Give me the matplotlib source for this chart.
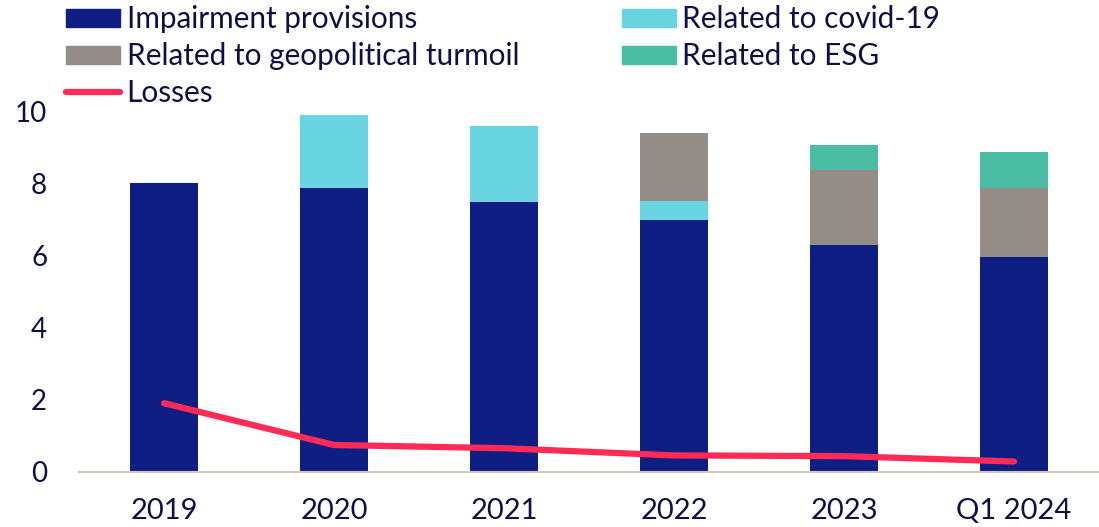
import matplotlib
matplotlib.use("Agg")
import matplotlib.pyplot as plt
import numpy as np
from matplotlib.patches import Patch
from matplotlib.lines import Line2D

# Values in percent
categories = ["2019", "2020", "2021", "2022", "2023", "Q1 2024"]
impairment = [8.02, 7.89, 7.50, 7.00, 6.31, 5.96]
covid = [0.0, 2.03, 2.11, 0.53, 0.0, 0.0]
geopolitical = [0.0, 0.0, 0.0, 1.88, 2.09, 1.94]
esg = [0.0, 0.0, 0.0, 0.0, 0.67, 1.0]
losses = [1.91, 0.75, 0.66, 0.46, 0.44, 0.29]
yticks = [0, 2, 4, 6, 8, 10]

NAVY = "#0f1e82"
CYAN = "#68d4e0"
GREY = "#948c86"
GREEN = "#4bbda3"
RED = "#ff2a55"
TEXT = "#0d1046"

plt.rcParams["font.family"] = ["Lato", "DejaVu Sans"]

fig = plt.figure(figsize=(10.99, 5.27), dpi=100)
ax = fig.add_axes([0.072, 0.1044, 0.928, 0.6831])

x = np.arange(len(categories))
w = 0.4
imp = np.array(impairment)
cov = np.array(covid)
geo = np.array(geopolitical)
eg = np.array(esg)

ax.bar(x, imp, w, color=NAVY, zorder=2)
ax.bar(x, cov, w, bottom=imp, color=CYAN, zorder=2)
ax.bar(x, geo, w, bottom=imp + cov, color=GREY, zorder=2)
ax.bar(x, eg, w, bottom=imp + cov + geo, color=GREEN, zorder=2)
ax.plot(x, losses, color=RED, lw=4.5, solid_capstyle="round", zorder=3)

ax.set_xlim(-0.5, len(categories) - 0.5)
ax.set_ylim(0, 10)
ax.set_xticks(x)
ax.set_xticklabels(categories)
ax.set_yticks(yticks)
ax.tick_params(axis="both", length=0, colors=TEXT)
ax.tick_params(axis="x", pad=19, labelsize=21)
ax.tick_params(axis="y", pad=23, labelsize=20)
for s in ["top", "right", "left"]:
    ax.spines[s].set_visible(False)
ax.spines["bottom"].set_color("#cfc8be")
ax.spines["bottom"].set_linewidth(1.5)

handles = [
    Patch(color=NAVY, label="Impairment provisions"),
    Patch(color=GREY, label="Related to geopolitical turmoil"),
    Line2D([], [], color=RED, lw=4.5, solid_capstyle="round", label="Losses"),
    Patch(color=CYAN, label="Related to covid-19"),
    Patch(color=GREEN, label="Related to ESG"),
]
fig.legend(handles=handles, ncol=2, loc="upper left",
           bbox_to_anchor=(0.060, 0.99), frameon=False, borderpad=0,
           borderaxespad=0,
           fontsize=21.4, labelcolor=TEXT, handlelength=1.82,
           handleheight=0.55, handletextpad=0.22, labelspacing=0.3,
           columnspacing=3.45)

fig.savefig("out.png", dpi=100)
